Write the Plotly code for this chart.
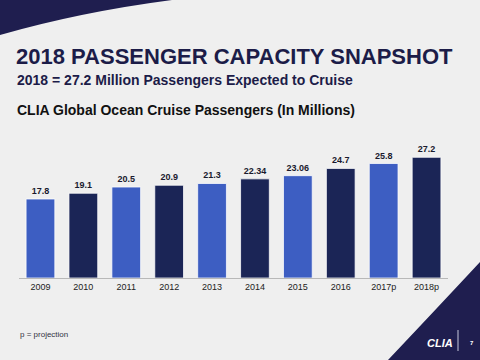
import plotly.graph_objects as go

years = ["2009", "2010", "2011", "2012", "2013", "2014", "2015", "2016", "2017p", "2018p"]
passengers = [17.8, 19.1, 20.5, 20.9, 21.3, 22.34, 23.06, 24.7, 25.8, 27.2]
value_labels = ["17.8", "19.1", "20.5", "20.9", "21.3", "22.34", "23.06", "24.7", "25.8", "27.2"]
bar_colors = ["#3d5ec2", "#1b2556", "#3d5ec2", "#1b2556", "#3d5ec2",
              "#1b2556", "#3d5ec2", "#1b2556", "#3d5ec2", "#1b2556"]

W, H = 480, 360
L, R, T, B = 19, 32, 140, 82
pw, ph = W - L - R, H - T - B

def px(x):
    return (x - L) / pw

def py(y):
    return (H - B - y) / ph

NAVY = "#1f1e4f"

fig = go.Figure()
fig.add_trace(go.Bar(
    x=years, y=passengers,
    marker=dict(color=bar_colors, line=dict(color="rgba(255,255,255,0.75)", width=1)),
    text=value_labels, textposition="outside", cliponaxis=False,
    textfont=dict(family="Arial", size=9, color="#1a1a2e", weight="bold"),
    width=0.67,
))

shapes = [
    # top-left swoosh
    dict(type="path", xref="paper", yref="paper", layer="above",
         path=f"M {px(0)},{py(0)} L {px(172)},{py(0)} Q {px(80)},{py(12)} {px(0)},{py(35)} Z",
         fillcolor=NAVY, line=dict(width=0)),
    # bottom-right corner
    dict(type="path", xref="paper", yref="paper", layer="above",
         path=f"M {px(480)},{py(262)} Q {px(440)},{py(305)} {px(388)},{py(360)} L {px(480)},{py(360)} Z",
         fillcolor=NAVY, line=dict(width=0)),
    # separator line in logo
    dict(type="line", xref="paper", yref="paper", layer="above",
         x0=px(458), x1=px(458), y0=py(330), y1=py(351),
         line=dict(color="#c8c8dc", width=1)),
]

annotations = [
    dict(text="<b>2018 PASSENGER CAPACITY SNAPSHOT</b>", x=px(14), y=py(56),
         font=dict(family="Arial", size=22, color="#1c1c48")),
    dict(text="<b>2018 = 27.2 Million Passengers Expected to Cruise</b>", x=px(15), y=py(80),
         font=dict(family="Arial", size=14, color="#1c1c48")),
    dict(text="<b>CLIA Global Ocean Cruise Passengers (In Millions)</b>", x=px(15), y=py(110),
         font=dict(family="Arial", size=14, color="#111111")),
    dict(text="p = projection", x=px(18), y=py(334),
         font=dict(family="Arial", size=8, color="#333344")),
    dict(text="<b><i>CLIA</i></b>", x=px(425), y=py(343),
         font=dict(family="Arial", size=11, color="#ffffff")),
    dict(text="<b>7</b>", x=px(468), y=py(343),
         font=dict(family="Arial", size=6, color="#ffffff")),
]
for a in annotations:
    a.update(xref="paper", yref="paper", xanchor="left", yanchor="middle", showarrow=False)

fig.update_layout(
    width=W, height=H,
    margin=dict(l=L, r=R, t=T, b=B, pad=0),
    paper_bgcolor="#efefef", plot_bgcolor="rgba(0,0,0,0)",
    showlegend=False, bargap=0.33,
    shapes=shapes, annotations=annotations,
    xaxis=dict(showgrid=False, showline=True, linecolor="#b8b8b8", linewidth=1,
               ticks="", tickfont=dict(family="Arial", size=9, color="#222222"),
               fixedrange=True),
    yaxis=dict(range=[0, 31.1], visible=False, showgrid=False, zeroline=False, fixedrange=True),
)

fig.write_html(
    "out.html",
    config=dict(displayModeBar=False),
    post_script="document.body.style.margin='0';document.body.style.overflow='hidden';",
)
